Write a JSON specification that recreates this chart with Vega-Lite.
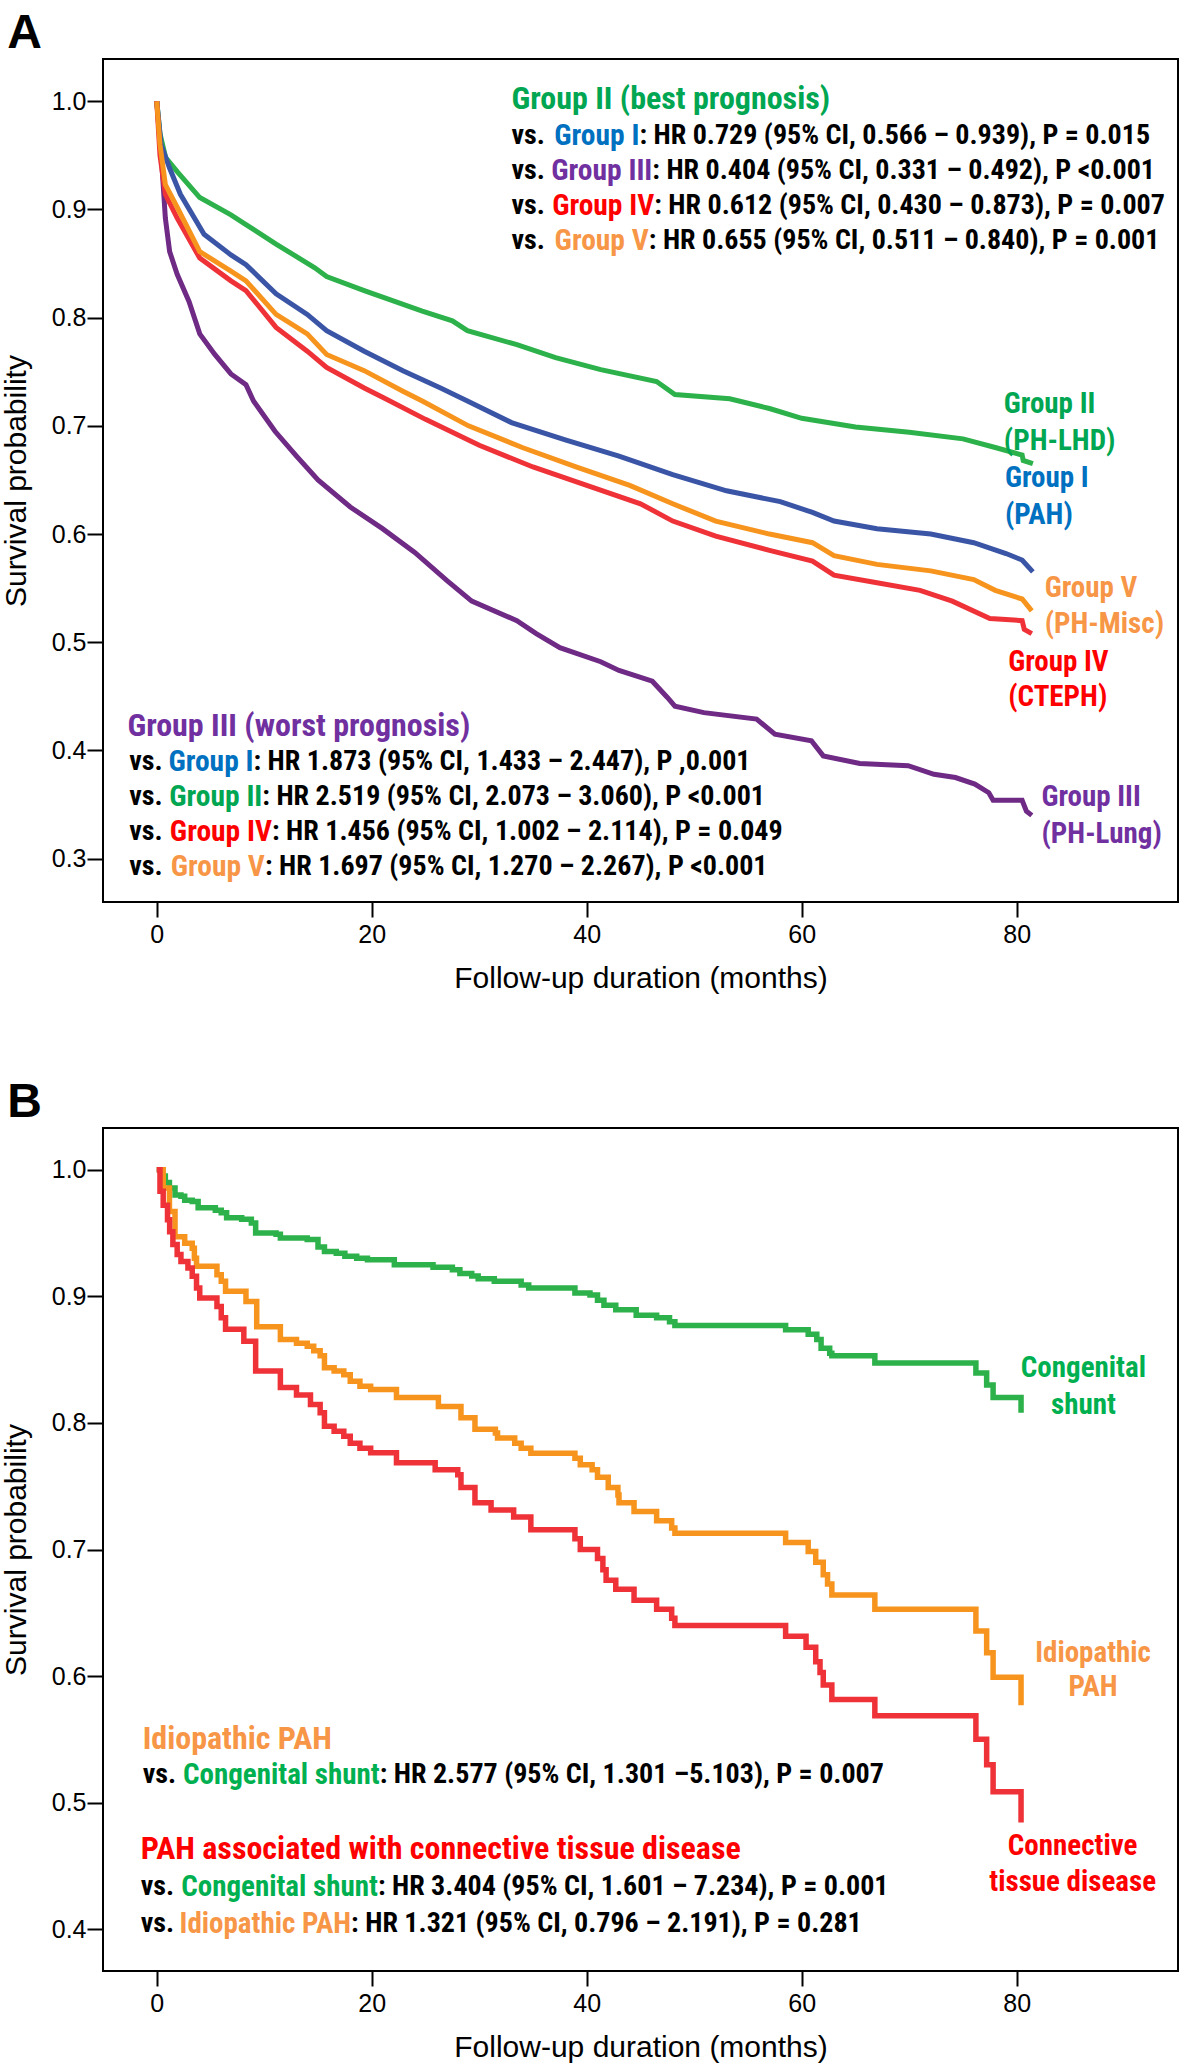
{
  "$schema": "https://vega.github.io/schema/vega-lite/v6.json",
  "background": "white",
  "padding": {"left": 0, "top": 9, "right": 0, "bottom": 0},
  "spacing": 84,
  "resolve": {"scale": {"color": "independent"}},
  "config": {
    "view": {"stroke": "#000000", "strokeWidth": 2},
    "axis": {"domain": false, "grid": false, "tickColor": "#000000", "tickWidth": 2, "labelColor": "#000000", "labelFont": "Liberation Sans", "labelFontSize": 25, "titleFont": "Liberation Sans", "titleFontSize": 30, "titleFontWeight": "normal", "titleColor": "#000000"},
    "title": {"font": "Liberation Sans", "fontSize": 48, "fontWeight": "bold", "anchor": "start", "frame": "bounds", "offset": 1, "color": "#000000"}
  },
  "vconcat": [
    {
      "title": {"text": "A", "dx": 6},
      "width": 1075,
      "height": 843,
      "encoding": {
        "x": {"field": "m", "type": "quantitative", "scale": {"domain": [-5, 95], "nice": false, "zero": false}, "axis": {"values": [0, 20, 40, 60, 80], "title": "Follow-up duration (months)", "tickSize": 15, "labelPadding": 5, "titlePadding": 16}},
        "y": {"field": "s", "type": "quantitative", "scale": {"domain": [0.26, 1.039], "nice": false, "zero": false}, "axis": {"values": [0.3, 0.4, 0.5, 0.6, 0.7, 0.8, 0.9, 1.0], "format": ".1f", "title": "Survival probability", "tickSize": 16, "labelPadding": 1, "titlePadding": 20}}
      },
      "layer": [
        {
          "data": {"values": [
            {"g": "III", "m": 0, "s": 1.0}, {"g": "III", "m": 0.5, "s": 0.938}, {"g": "III", "m": 0.8, "s": 0.892}, {"g": "III", "m": 1.2, "s": 0.861}, {"g": "III", "m": 1.9, "s": 0.84}, {"g": "III", "m": 3.0, "s": 0.815}, {"g": "III", "m": 4.0, "s": 0.785}, {"g": "III", "m": 5.4, "s": 0.766}, {"g": "III", "m": 6.9, "s": 0.748}, {"g": "III", "m": 8.3, "s": 0.738}, {"g": "III", "m": 9.0, "s": 0.723}, {"g": "III", "m": 11, "s": 0.695}, {"g": "III", "m": 13, "s": 0.672}, {"g": "III", "m": 15, "s": 0.65}, {"g": "III", "m": 18, "s": 0.625}, {"g": "III", "m": 21, "s": 0.605}, {"g": "III", "m": 24, "s": 0.583}, {"g": "III", "m": 27, "s": 0.557}, {"g": "III", "m": 29.3, "s": 0.538}, {"g": "III", "m": 33.5, "s": 0.52}, {"g": "III", "m": 35.3, "s": 0.508}, {"g": "III", "m": 37.5, "s": 0.495}, {"g": "III", "m": 41.3, "s": 0.482}, {"g": "III", "m": 43.0, "s": 0.474}, {"g": "III", "m": 46.1, "s": 0.464}, {"g": "III", "m": 47.5, "s": 0.449}, {"g": "III", "m": 48.2, "s": 0.441}, {"g": "III", "m": 50.9, "s": 0.435}, {"g": "III", "m": 55.8, "s": 0.429}, {"g": "III", "m": 57.5, "s": 0.415}, {"g": "III", "m": 60.9, "s": 0.409}, {"g": "III", "m": 62.0, "s": 0.395}, {"g": "III", "m": 65.4, "s": 0.388}, {"g": "III", "m": 69.9, "s": 0.386}, {"g": "III", "m": 72.3, "s": 0.378}, {"g": "III", "m": 74.3, "s": 0.375}, {"g": "III", "m": 76.1, "s": 0.369}, {"g": "III", "m": 77.4, "s": 0.361}, {"g": "III", "m": 77.8, "s": 0.354}, {"g": "III", "m": 80.5, "s": 0.354}, {"g": "III", "m": 80.9, "s": 0.344}, {"g": "III", "m": 81.4, "s": 0.34},
            {"g": "II", "m": 0, "s": 1.0}, {"g": "II", "m": 0.3, "s": 0.97}, {"g": "II", "m": 0.83, "s": 0.948}, {"g": "II", "m": 1.9, "s": 0.935}, {"g": "II", "m": 4.0, "s": 0.911}, {"g": "II", "m": 6.9, "s": 0.895}, {"g": "II", "m": 8.3, "s": 0.886}, {"g": "II", "m": 11.1, "s": 0.868}, {"g": "II", "m": 14.7, "s": 0.846}, {"g": "II", "m": 15.8, "s": 0.838}, {"g": "II", "m": 19.3, "s": 0.825}, {"g": "II", "m": 24.7, "s": 0.806}, {"g": "II", "m": 27.5, "s": 0.797}, {"g": "II", "m": 28.9, "s": 0.788}, {"g": "II", "m": 33.5, "s": 0.775}, {"g": "II", "m": 37.1, "s": 0.763}, {"g": "II", "m": 41.3, "s": 0.752}, {"g": "II", "m": 46.5, "s": 0.741}, {"g": "II", "m": 48.2, "s": 0.729}, {"g": "II", "m": 53.3, "s": 0.725}, {"g": "II", "m": 57, "s": 0.716}, {"g": "II", "m": 60, "s": 0.707}, {"g": "II", "m": 65, "s": 0.699}, {"g": "II", "m": 70, "s": 0.694}, {"g": "II", "m": 75, "s": 0.688}, {"g": "II", "m": 78, "s": 0.68}, {"g": "II", "m": 80.5, "s": 0.673}, {"g": "II", "m": 80.6, "s": 0.668}, {"g": "II", "m": 81.5, "s": 0.665},
            {"g": "I", "m": 0, "s": 1.0}, {"g": "I", "m": 0.4, "s": 0.96}, {"g": "I", "m": 1.2, "s": 0.938}, {"g": "I", "m": 2.2, "s": 0.914}, {"g": "I", "m": 4.4, "s": 0.877}, {"g": "I", "m": 6.9, "s": 0.858}, {"g": "I", "m": 8.3, "s": 0.849}, {"g": "I", "m": 11.1, "s": 0.822}, {"g": "I", "m": 14.0, "s": 0.803}, {"g": "I", "m": 15.8, "s": 0.788}, {"g": "I", "m": 19.3, "s": 0.769}, {"g": "I", "m": 22.9, "s": 0.751}, {"g": "I", "m": 26.4, "s": 0.735}, {"g": "I", "m": 28.9, "s": 0.723}, {"g": "I", "m": 33, "s": 0.703}, {"g": "I", "m": 38, "s": 0.687}, {"g": "I", "m": 43, "s": 0.672}, {"g": "I", "m": 48, "s": 0.655}, {"g": "I", "m": 53, "s": 0.64}, {"g": "I", "m": 58, "s": 0.63}, {"g": "I", "m": 61, "s": 0.62}, {"g": "I", "m": 63, "s": 0.612}, {"g": "I", "m": 67, "s": 0.605}, {"g": "I", "m": 72, "s": 0.6}, {"g": "I", "m": 76, "s": 0.592}, {"g": "I", "m": 79, "s": 0.582}, {"g": "I", "m": 80.5, "s": 0.576}, {"g": "I", "m": 81.5, "s": 0.565},
            {"g": "IV", "m": 0, "s": 1.0}, {"g": "IV", "m": 0.3, "s": 0.95}, {"g": "IV", "m": 0.8, "s": 0.914}, {"g": "IV", "m": 1.9, "s": 0.892}, {"g": "IV", "m": 4.0, "s": 0.855}, {"g": "IV", "m": 6.9, "s": 0.834}, {"g": "IV", "m": 8.3, "s": 0.825}, {"g": "IV", "m": 11.1, "s": 0.791}, {"g": "IV", "m": 14.0, "s": 0.769}, {"g": "IV", "m": 15.8, "s": 0.754}, {"g": "IV", "m": 19.3, "s": 0.735}, {"g": "IV", "m": 21.1, "s": 0.726}, {"g": "IV", "m": 25, "s": 0.706}, {"g": "IV", "m": 30, "s": 0.682}, {"g": "IV", "m": 35, "s": 0.662}, {"g": "IV", "m": 40, "s": 0.645}, {"g": "IV", "m": 45, "s": 0.628}, {"g": "IV", "m": 48, "s": 0.612}, {"g": "IV", "m": 52, "s": 0.598}, {"g": "IV", "m": 57, "s": 0.585}, {"g": "IV", "m": 61, "s": 0.575}, {"g": "IV", "m": 63, "s": 0.562}, {"g": "IV", "m": 67, "s": 0.555}, {"g": "IV", "m": 71, "s": 0.548}, {"g": "IV", "m": 74, "s": 0.538}, {"g": "IV", "m": 77.5, "s": 0.522}, {"g": "IV", "m": 80.5, "s": 0.52}, {"g": "IV", "m": 80.7, "s": 0.512}, {"g": "IV", "m": 81.4, "s": 0.508},
            {"g": "V", "m": 0, "s": 1.0}, {"g": "V", "m": 0.3, "s": 0.96}, {"g": "V", "m": 0.8, "s": 0.923}, {"g": "V", "m": 1.9, "s": 0.902}, {"g": "V", "m": 4.0, "s": 0.861}, {"g": "V", "m": 6.9, "s": 0.843}, {"g": "V", "m": 8.3, "s": 0.834}, {"g": "V", "m": 11.1, "s": 0.803}, {"g": "V", "m": 14.0, "s": 0.785}, {"g": "V", "m": 15.8, "s": 0.766}, {"g": "V", "m": 19.3, "s": 0.751}, {"g": "V", "m": 22.9, "s": 0.732}, {"g": "V", "m": 24.7, "s": 0.723}, {"g": "V", "m": 29, "s": 0.7}, {"g": "V", "m": 34, "s": 0.68}, {"g": "V", "m": 39, "s": 0.662}, {"g": "V", "m": 44, "s": 0.645}, {"g": "V", "m": 48, "s": 0.628}, {"g": "V", "m": 52, "s": 0.612}, {"g": "V", "m": 57, "s": 0.6}, {"g": "V", "m": 61, "s": 0.592}, {"g": "V", "m": 63, "s": 0.58}, {"g": "V", "m": 67, "s": 0.572}, {"g": "V", "m": 72, "s": 0.566}, {"g": "V", "m": 76, "s": 0.558}, {"g": "V", "m": 78, "s": 0.548}, {"g": "V", "m": 80.5, "s": 0.54}, {"g": "V", "m": 81.4, "s": 0.529}
          ]},
          "mark": {"type": "line", "strokeWidth": 5, "interpolate": "linear"},
          "encoding": {
            "color": {"field": "g", "type": "nominal", "legend": null, "scale": {"domain": ["I", "II", "III", "IV", "V", "black", "tI", "tII", "tIII", "tIV", "tV"], "range": ["#3B55A6", "#2DB14B", "#6E2A84", "#EE3238", "#F7941D", "#000000", "#0070C0", "#00A651", "#7030A0", "#FF0000", "#F79646"]}}
          }
        },
        {
          "data": {"values": [
            {"t": "Group II (best prognosis)", "m": 33.0, "s": 1.002, "tone": "tII"},
            {"t": "Group III (worst prognosis)", "m": -2.73, "s": 0.423, "tone": "tIII"}
          ]},
          "mark": {"type": "text", "align": "left", "baseline": "middle", "font": "Roboto Condensed, Liberation Sans Narrow, sans-serif", "fontWeight": "bold", "fontSize": 32},
          "encoding": {
            "text": {"field": "t"},
            "color": {"field": "tone", "type": "nominal", "legend": null, "scale": {"domain": ["I", "II", "III", "IV", "V", "black", "tI", "tII", "tIII", "tIV", "tV"], "range": ["#3B55A6", "#2DB14B", "#6E2A84", "#EE3238", "#F7941D", "#000000", "#0070C0", "#00A651", "#7030A0", "#FF0000", "#F79646"]}}
          }
        },
        {
          "data": {"values": [
            {"t": "vs.", "m": 33.0, "s": 0.9677, "tone": "black"},
            {"t": ": HR 0.729 (95% CI, 0.566 – 0.939), P = 0.015", "m": 44.9, "s": 0.9677, "tone": "black"},
            {"t": "vs.", "m": 33.0, "s": 0.9354, "tone": "black"},
            {"t": ": HR 0.404 (95% CI, 0.331 – 0.492), P <0.001", "m": 46.1, "s": 0.9354, "tone": "black"},
            {"t": "vs.", "m": 33.0, "s": 0.903, "tone": "black"},
            {"t": ": HR 0.612 (95% CI, 0.430 – 0.873), P = 0.007", "m": 46.28, "s": 0.903, "tone": "black"},
            {"t": "vs.", "m": 33.0, "s": 0.8707, "tone": "black"},
            {"t": ": HR 0.655 (95% CI, 0.511 – 0.840), P = 0.001", "m": 45.77, "s": 0.8707, "tone": "black"},
            {"t": "vs.", "m": -2.56, "s": 0.389, "tone": "black"},
            {"t": ": HR 1.873 (95% CI, 1.433 – 2.447), P ,0.001", "m": 9.0, "s": 0.389, "tone": "black"},
            {"t": "vs.", "m": -2.56, "s": 0.357, "tone": "black"},
            {"t": ": HR 2.519 (95% CI, 2.073 – 3.060), P <0.001", "m": 9.82, "s": 0.357, "tone": "black"},
            {"t": "vs.", "m": -2.56, "s": 0.3244, "tone": "black"},
            {"t": ": HR 1.456 (95% CI, 1.002 – 2.114), P = 0.049", "m": 10.72, "s": 0.3244, "tone": "black"},
            {"t": "vs.", "m": -2.56, "s": 0.292, "tone": "black"},
            {"t": ": HR 1.697 (95% CI, 1.270 – 2.267), P <0.001", "m": 10.06, "s": 0.292, "tone": "black"}
          ]},
          "mark": {"type": "text", "align": "left", "baseline": "middle", "font": "Roboto Condensed, Liberation Sans Narrow, sans-serif", "fontWeight": "bold", "fontSize": 28},
          "encoding": {
            "text": {"field": "t"},
            "color": {"field": "tone", "type": "nominal", "legend": null, "scale": {"domain": ["I", "II", "III", "IV", "V", "black", "tI", "tII", "tIII", "tIV", "tV"], "range": ["#3B55A6", "#2DB14B", "#6E2A84", "#EE3238", "#F7941D", "#000000", "#0070C0", "#00A651", "#7030A0", "#FF0000", "#F79646"]}}
          }
        },
        {
          "data": {"values": [
            {"t": "Group I", "m": 44.9, "s": 0.9677, "tone": "tI"},
            {"t": "Group III", "m": 46.1, "s": 0.9354, "tone": "tIII"},
            {"t": "Group IV", "m": 46.28, "s": 0.903, "tone": "tIV"},
            {"t": "Group V", "m": 45.77, "s": 0.8707, "tone": "tV"},
            {"t": "Group I", "m": 9.0, "s": 0.389, "tone": "tI"},
            {"t": "Group II", "m": 9.82, "s": 0.357, "tone": "tII"},
            {"t": "Group IV", "m": 10.72, "s": 0.3244, "tone": "tIV"},
            {"t": "Group V", "m": 10.06, "s": 0.292, "tone": "tV"}
          ]},
          "mark": {"type": "text", "align": "right", "baseline": "middle", "font": "Roboto Condensed, Liberation Sans Narrow, sans-serif", "fontWeight": "bold", "fontSize": 29.5},
          "encoding": {
            "text": {"field": "t"},
            "color": {"field": "tone", "type": "nominal", "legend": null, "scale": {"domain": ["I", "II", "III", "IV", "V", "black", "tI", "tII", "tIII", "tIV", "tV"], "range": ["#3B55A6", "#2DB14B", "#6E2A84", "#EE3238", "#F7941D", "#000000", "#0070C0", "#00A651", "#7030A0", "#FF0000", "#F79646"]}}
          }
        },
        {
          "data": {"values": [
            {"t": "Group II", "m": 78.8, "s": 0.72, "tone": "tII"},
            {"t": "(PH-LHD)", "m": 78.8, "s": 0.686, "tone": "tII"},
            {"t": "Group I", "m": 78.9, "s": 0.652, "tone": "tI"},
            {"t": "(PAH)", "m": 78.9, "s": 0.618, "tone": "tI"},
            {"t": "Group V", "m": 82.6, "s": 0.55, "tone": "tV"},
            {"t": "(PH-Misc)", "m": 82.6, "s": 0.517, "tone": "tV"},
            {"t": "Group IV", "m": 79.2, "s": 0.482, "tone": "tIV"},
            {"t": "(CTEPH)", "m": 79.2, "s": 0.449, "tone": "tIV"},
            {"t": "Group III", "m": 82.3, "s": 0.357, "tone": "tIII"},
            {"t": "(PH-Lung)", "m": 82.3, "s": 0.323, "tone": "tIII"}
          ]},
          "mark": {"type": "text", "align": "left", "baseline": "middle", "font": "Roboto Condensed, Liberation Sans Narrow, sans-serif", "fontWeight": "bold", "fontSize": 29},
          "encoding": {
            "text": {"field": "t"},
            "color": {"field": "tone", "type": "nominal", "legend": null, "scale": {"domain": ["I", "II", "III", "IV", "V", "black", "tI", "tII", "tIII", "tIV", "tV"], "range": ["#3B55A6", "#2DB14B", "#6E2A84", "#EE3238", "#F7941D", "#000000", "#0070C0", "#00A651", "#7030A0", "#FF0000", "#F79646"]}}
          }
        }
      ]
    },
    {
      "title": {"text": "B", "dx": 6},
      "width": 1075,
      "height": 843,
      "encoding": {
        "x": {"field": "m", "type": "quantitative", "scale": {"domain": [-5, 95], "nice": false, "zero": false}, "axis": {"values": [0, 20, 40, 60, 80], "title": "Follow-up duration (months)", "tickSize": 15, "labelPadding": 5, "titlePadding": 16}},
        "y": {"field": "s", "type": "quantitative", "scale": {"domain": [0.367, 1.033], "nice": false, "zero": false}, "axis": {"values": [0.4, 0.5, 0.6, 0.7, 0.8, 0.9, 1.0], "format": ".1f", "title": "Survival probability", "tickSize": 16, "labelPadding": 1, "titlePadding": 20}}
      },
      "layer": [
        {
          "data": {"values": [
            {"g": "CS", "m": 0, "s": 1.0}, {"g": "CS", "m": 0.47, "s": 0.995}, {"g": "CS", "m": 0.8, "s": 0.99}, {"g": "CS", "m": 1.18, "s": 0.9855}, {"g": "CS", "m": 1.7, "s": 0.98}, {"g": "CS", "m": 2.25, "s": 0.979}, {"g": "CS", "m": 2.6, "s": 0.976}, {"g": "CS", "m": 3.3, "s": 0.975}, {"g": "CS", "m": 3.85, "s": 0.97}, {"g": "CS", "m": 5.45, "s": 0.968}, {"g": "CS", "m": 6.0, "s": 0.966}, {"g": "CS", "m": 6.5, "s": 0.962}, {"g": "CS", "m": 7.9, "s": 0.961}, {"g": "CS", "m": 8.8, "s": 0.958}, {"g": "CS", "m": 9.2, "s": 0.95}, {"g": "CS", "m": 11.1, "s": 0.949}, {"g": "CS", "m": 11.5, "s": 0.946}, {"g": "CS", "m": 14.0, "s": 0.945}, {"g": "CS", "m": 15.0, "s": 0.939}, {"g": "CS", "m": 15.6, "s": 0.9355}, {"g": "CS", "m": 16.7, "s": 0.934}, {"g": "CS", "m": 17.5, "s": 0.9316}, {"g": "CS", "m": 18.6, "s": 0.93}, {"g": "CS", "m": 19.6, "s": 0.929}, {"g": "CS", "m": 22.1, "s": 0.925}, {"g": "CS", "m": 25.7, "s": 0.923}, {"g": "CS", "m": 27.5, "s": 0.921}, {"g": "CS", "m": 28.2, "s": 0.918}, {"g": "CS", "m": 29.3, "s": 0.916}, {"g": "CS", "m": 29.9, "s": 0.914}, {"g": "CS", "m": 31.4, "s": 0.912}, {"g": "CS", "m": 33.9, "s": 0.909}, {"g": "CS", "m": 34.6, "s": 0.9066}, {"g": "CS", "m": 38.9, "s": 0.9027}, {"g": "CS", "m": 40.3, "s": 0.901}, {"g": "CS", "m": 41.0, "s": 0.897}, {"g": "CS", "m": 41.6, "s": 0.893}, {"g": "CS", "m": 42.7, "s": 0.8895}, {"g": "CS", "m": 44.6, "s": 0.885}, {"g": "CS", "m": 46.5, "s": 0.883}, {"g": "CS", "m": 47.7, "s": 0.88}, {"g": "CS", "m": 48.2, "s": 0.877}, {"g": "CS", "m": 58.5, "s": 0.8737}, {"g": "CS", "m": 60.6, "s": 0.87}, {"g": "CS", "m": 61.4, "s": 0.866}, {"g": "CS", "m": 61.8, "s": 0.859}, {"g": "CS", "m": 62.6, "s": 0.855}, {"g": "CS", "m": 62.8, "s": 0.853}, {"g": "CS", "m": 66.8, "s": 0.8474}, {"g": "CS", "m": 76.2, "s": 0.8395}, {"g": "CS", "m": 77.2, "s": 0.83}, {"g": "CS", "m": 77.8, "s": 0.82}, {"g": "CS", "m": 80.4, "s": 0.808},
            {"g": "IPAH", "m": 0, "s": 1.0}, {"g": "IPAH", "m": 0.6, "s": 0.9855}, {"g": "IPAH", "m": 1.18, "s": 0.967}, {"g": "IPAH", "m": 1.7, "s": 0.947}, {"g": "IPAH", "m": 2.6, "s": 0.942}, {"g": "IPAH", "m": 3.3, "s": 0.938}, {"g": "IPAH", "m": 3.5, "s": 0.93}, {"g": "IPAH", "m": 3.7, "s": 0.9237}, {"g": "IPAH", "m": 5.6, "s": 0.917}, {"g": "IPAH", "m": 6.0, "s": 0.912}, {"g": "IPAH", "m": 6.4, "s": 0.904}, {"g": "IPAH", "m": 8.3, "s": 0.896}, {"g": "IPAH", "m": 9.3, "s": 0.876}, {"g": "IPAH", "m": 11.5, "s": 0.866}, {"g": "IPAH", "m": 13.0, "s": 0.863}, {"g": "IPAH", "m": 14.0, "s": 0.8605}, {"g": "IPAH", "m": 14.6, "s": 0.857}, {"g": "IPAH", "m": 15.2, "s": 0.853}, {"g": "IPAH", "m": 15.6, "s": 0.8435}, {"g": "IPAH", "m": 16.5, "s": 0.841}, {"g": "IPAH", "m": 17.4, "s": 0.838}, {"g": "IPAH", "m": 18.0, "s": 0.833}, {"g": "IPAH", "m": 18.9, "s": 0.829}, {"g": "IPAH", "m": 19.9, "s": 0.8264}, {"g": "IPAH", "m": 22.3, "s": 0.82}, {"g": "IPAH", "m": 26.2, "s": 0.813}, {"g": "IPAH", "m": 28.3, "s": 0.804}, {"g": "IPAH", "m": 29.6, "s": 0.795}, {"g": "IPAH", "m": 31.5, "s": 0.792}, {"g": "IPAH", "m": 31.7, "s": 0.788}, {"g": "IPAH", "m": 33.3, "s": 0.784}, {"g": "IPAH", "m": 33.9, "s": 0.78}, {"g": "IPAH", "m": 34.8, "s": 0.776}, {"g": "IPAH", "m": 38.9, "s": 0.772}, {"g": "IPAH", "m": 39.4, "s": 0.767}, {"g": "IPAH", "m": 40.5, "s": 0.763}, {"g": "IPAH", "m": 41.0, "s": 0.757}, {"g": "IPAH", "m": 42.0, "s": 0.749}, {"g": "IPAH", "m": 42.9, "s": 0.743}, {"g": "IPAH", "m": 43.0, "s": 0.737}, {"g": "IPAH", "m": 44.4, "s": 0.73}, {"g": "IPAH", "m": 46.5, "s": 0.7227}, {"g": "IPAH", "m": 47.9, "s": 0.717}, {"g": "IPAH", "m": 48.2, "s": 0.7128}, {"g": "IPAH", "m": 58.5, "s": 0.7056}, {"g": "IPAH", "m": 60.6, "s": 0.6985}, {"g": "IPAH", "m": 61.3, "s": 0.69}, {"g": "IPAH", "m": 62.0, "s": 0.68}, {"g": "IPAH", "m": 62.4, "s": 0.6728}, {"g": "IPAH", "m": 62.8, "s": 0.664}, {"g": "IPAH", "m": 66.8, "s": 0.6528}, {"g": "IPAH", "m": 76.2, "s": 0.6357}, {"g": "IPAH", "m": 77.2, "s": 0.6185}, {"g": "IPAH", "m": 77.8, "s": 0.5991}, {"g": "IPAH", "m": 80.4, "s": 0.577},
            {"g": "CTD", "m": 0, "s": 1.0}, {"g": "CTD", "m": 0.3, "s": 0.983}, {"g": "CTD", "m": 0.6, "s": 0.972}, {"g": "CTD", "m": 1.0, "s": 0.9605}, {"g": "CTD", "m": 1.2, "s": 0.951}, {"g": "CTD", "m": 1.5, "s": 0.941}, {"g": "CTD", "m": 1.9, "s": 0.933}, {"g": "CTD", "m": 2.25, "s": 0.9276}, {"g": "CTD", "m": 2.9, "s": 0.9224}, {"g": "CTD", "m": 3.3, "s": 0.9158}, {"g": "CTD", "m": 3.7, "s": 0.9066}, {"g": "CTD", "m": 4.0, "s": 0.8987}, {"g": "CTD", "m": 5.6, "s": 0.892}, {"g": "CTD", "m": 6.0, "s": 0.883}, {"g": "CTD", "m": 6.4, "s": 0.874}, {"g": "CTD", "m": 8.1, "s": 0.8645}, {"g": "CTD", "m": 9.2, "s": 0.841}, {"g": "CTD", "m": 11.5, "s": 0.828}, {"g": "CTD", "m": 13.0, "s": 0.822}, {"g": "CTD", "m": 14.3, "s": 0.8145}, {"g": "CTD", "m": 15.2, "s": 0.808}, {"g": "CTD", "m": 15.6, "s": 0.7974}, {"g": "CTD", "m": 16.5, "s": 0.7935}, {"g": "CTD", "m": 17.4, "s": 0.7895}, {"g": "CTD", "m": 18.0, "s": 0.784}, {"g": "CTD", "m": 18.9, "s": 0.78}, {"g": "CTD", "m": 19.9, "s": 0.7764}, {"g": "CTD", "m": 22.3, "s": 0.7685}, {"g": "CTD", "m": 25.9, "s": 0.763}, {"g": "CTD", "m": 28.0, "s": 0.759}, {"g": "CTD", "m": 28.3, "s": 0.749}, {"g": "CTD", "m": 29.6, "s": 0.737}, {"g": "CTD", "m": 31.1, "s": 0.7313}, {"g": "CTD", "m": 33.2, "s": 0.7256}, {"g": "CTD", "m": 34.8, "s": 0.7156}, {"g": "CTD", "m": 38.9, "s": 0.7084}, {"g": "CTD", "m": 39.4, "s": 0.7}, {"g": "CTD", "m": 41.0, "s": 0.6928}, {"g": "CTD", "m": 41.5, "s": 0.684}, {"g": "CTD", "m": 41.8, "s": 0.6757}, {"g": "CTD", "m": 42.7, "s": 0.6685}, {"g": "CTD", "m": 44.4, "s": 0.66}, {"g": "CTD", "m": 46.5, "s": 0.6528}, {"g": "CTD", "m": 47.9, "s": 0.6457}, {"g": "CTD", "m": 48.2, "s": 0.64}, {"g": "CTD", "m": 58.5, "s": 0.6314}, {"g": "CTD", "m": 60.4, "s": 0.6228}, {"g": "CTD", "m": 61.3, "s": 0.6114}, {"g": "CTD", "m": 61.7, "s": 0.6029}, {"g": "CTD", "m": 62.0, "s": 0.593}, {"g": "CTD", "m": 62.8, "s": 0.5815}, {"g": "CTD", "m": 66.8, "s": 0.5686}, {"g": "CTD", "m": 76.2, "s": 0.55}, {"g": "CTD", "m": 77.2, "s": 0.53}, {"g": "CTD", "m": 77.8, "s": 0.5087}, {"g": "CTD", "m": 80.4, "s": 0.4843}
          ]},
          "mark": {"type": "line", "strokeWidth": 5.5, "interpolate": "step-after"},
          "encoding": {
            "color": {"field": "g", "type": "nominal", "legend": null, "scale": {"domain": ["CS", "IPAH", "CTD", "black", "tCS", "tIPAH", "tCTD"], "range": ["#2DB14B", "#F7941D", "#EE3238", "#000000", "#00B050", "#F79646", "#FF0000"]}}
          }
        },
        {
          "data": {"values": [
            {"t": "Idiopathic PAH", "m": -1.31, "s": 0.5501, "tone": "tIPAH"},
            {"t": "PAH associated with connective tissue disease", "m": -1.49, "s": 0.463, "tone": "tCTD"}
          ]},
          "mark": {"type": "text", "align": "left", "baseline": "middle", "font": "Roboto Condensed, Liberation Sans Narrow, sans-serif", "fontWeight": "bold", "fontSize": 32},
          "encoding": {
            "text": {"field": "t"},
            "color": {"field": "tone", "type": "nominal", "legend": null, "scale": {"domain": ["CS", "IPAH", "CTD", "black", "tCS", "tIPAH", "tCTD"], "range": ["#2DB14B", "#F7941D", "#EE3238", "#000000", "#00B050", "#F79646", "#FF0000"]}}
          }
        },
        {
          "data": {"values": [
            {"t": "vs.", "m": -1.31, "s": 0.5217, "tone": "black"},
            {"t": ": HR 2.577 (95% CI, 1.301 –5.103), P = 0.007", "m": 20.74, "s": 0.5217, "tone": "black"},
            {"t": "vs.", "m": -1.49, "s": 0.433, "tone": "black"},
            {"t": ": HR 3.404 (95% CI, 1.601 – 7.234), P = 0.001", "m": 20.57, "s": 0.433, "tone": "black"},
            {"t": "vs.", "m": -1.49, "s": 0.4045, "tone": "black"},
            {"t": ": HR 1.321 (95% CI, 0.796 – 2.191), P = 0.281", "m": 18.08, "s": 0.4045, "tone": "black"}
          ]},
          "mark": {"type": "text", "align": "left", "baseline": "middle", "font": "Roboto Condensed, Liberation Sans Narrow, sans-serif", "fontWeight": "bold", "fontSize": 28},
          "encoding": {
            "text": {"field": "t"},
            "color": {"field": "tone", "type": "nominal", "legend": null, "scale": {"domain": ["CS", "IPAH", "CTD", "black", "tCS", "tIPAH", "tCTD"], "range": ["#2DB14B", "#F7941D", "#EE3238", "#000000", "#00B050", "#F79646", "#FF0000"]}}
          }
        },
        {
          "data": {"values": [
            {"t": "Congenital shunt", "m": 20.74, "s": 0.5217, "tone": "tCS"},
            {"t": "Congenital shunt", "m": 20.57, "s": 0.433, "tone": "tCS"},
            {"t": "Idiopathic PAH", "m": 18.08, "s": 0.4045, "tone": "tIPAH"}
          ]},
          "mark": {"type": "text", "align": "right", "baseline": "middle", "font": "Roboto Condensed, Liberation Sans Narrow, sans-serif", "fontWeight": "bold", "fontSize": 29},
          "encoding": {
            "text": {"field": "t"},
            "color": {"field": "tone", "type": "nominal", "legend": null, "scale": {"domain": ["CS", "IPAH", "CTD", "black", "tCS", "tIPAH", "tCTD"], "range": ["#2DB14B", "#F7941D", "#EE3238", "#000000", "#00B050", "#F79646", "#FF0000"]}}
          }
        },
        {
          "data": {"values": [
            {"t": "Congenital", "m": 86.2, "s": 0.8437, "tone": "tCS"},
            {"t": "shunt", "m": 86.2, "s": 0.8145, "tone": "tCS"},
            {"t": "Idiopathic", "m": 87.1, "s": 0.6186, "tone": "tIPAH"},
            {"t": "PAH", "m": 87.1, "s": 0.5915, "tone": "tIPAH"},
            {"t": "Connective", "m": 85.2, "s": 0.4658, "tone": "tCTD"},
            {"t": "tissue disease", "m": 85.2, "s": 0.4373, "tone": "tCTD"}
          ]},
          "mark": {"type": "text", "align": "center", "baseline": "middle", "font": "Roboto Condensed, Liberation Sans Narrow, sans-serif", "fontWeight": "bold", "fontSize": 29},
          "encoding": {
            "text": {"field": "t"},
            "color": {"field": "tone", "type": "nominal", "legend": null, "scale": {"domain": ["CS", "IPAH", "CTD", "black", "tCS", "tIPAH", "tCTD"], "range": ["#2DB14B", "#F7941D", "#EE3238", "#000000", "#00B050", "#F79646", "#FF0000"]}}
          }
        }
      ]
    }
  ]
}
